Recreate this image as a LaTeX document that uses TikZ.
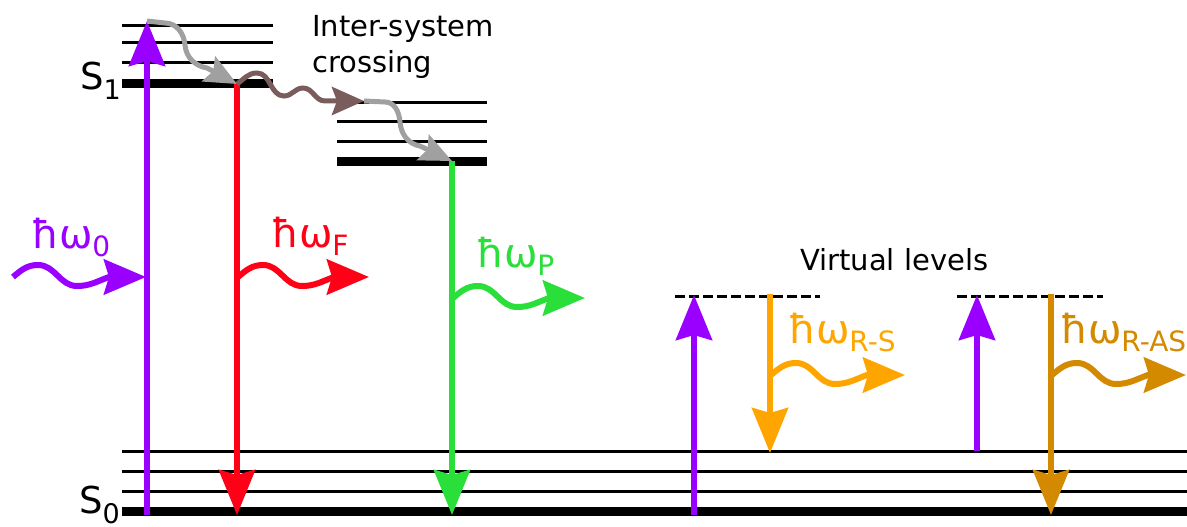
\documentclass[tikz,border=0pt]{standalone}
\usepackage{fontspec}
\setmainfont{DejaVu Sans}
\usetikzlibrary{arrows.meta}
\definecolor{cpur}{HTML}{9900FF}
\definecolor{cred}{HTML}{FF0016}
\definecolor{cgrn}{HTML}{2ADF3A}
\definecolor{cora}{HTML}{FFA500}
\definecolor{cdor}{HTML}{D48A00}
\definecolor{cbrn}{HTML}{7A5C5C}
\definecolor{cgry}{HTML}{A0A0A0}
\newcommand\lsub[1]{\raisebox{-8pt}{\fontsize{28}{30}\selectfont #1}}
\newcommand\ssub[1]{\raisebox{-10pt}{\fontsize{27}{30}\selectfont #1}}
\tikzset{
  lvl/.style={line width=3pt, black},
  lvlg/.style={line width=9pt, black},
  trn/.style={line width=6pt, -{Stealth[length=45pt,width=36pt,inset=5pt]}},
  phot/.style={line width=6pt, -{Stealth[length=42pt,width=35pt,inset=5pt]}},
  iscar/.style={line width=5pt, -{Stealth[length=32pt,width=28pt,inset=5pt]}},
  lab/.style={anchor=base west, inner sep=0pt, font=\fontsize{40}{48}\selectfont},
  txt/.style={anchor=base west, inner sep=0pt, font=\fontsize{29}{35}\selectfont},
  slab/.style={anchor=base west, inner sep=0pt, font=\fontsize{37}{44}\selectfont},
  virt/.style={line width=3pt, dash pattern=on 10pt off 4pt},
}
\begin{document}
\begin{tikzpicture}[x=1pt,y=1pt]
\useasboundingbox (0,0) rectangle (1187,-527);
% S1 levels
\draw[lvl] (122,-26) -- (273,-26);
\draw[lvl] (122,-43) -- (273,-43);
\draw[lvl] (122,-63) -- (273,-63);
\draw[lvlg] (122,-84) -- (273,-84);
% T1 levels
\draw[lvl] (337,-103) -- (487,-103);
\draw[lvl] (337,-121) -- (487,-121);
\draw[lvl] (337,-141) -- (487,-141);
\draw[lvlg] (337,-161) -- (487,-161);
% S0 levels
\draw[lvl] (122,-451) -- (1187,-451);
\draw[lvl] (122,-471) -- (1187,-471);
\draw[lvl] (122,-491) -- (1187,-491);
\draw[lvlg] (122,-511) -- (1187,-511);
% virtual levels
\draw[virt] (675,-296) -- (820,-296);
\draw[virt] (957,-296) -- (1103,-296);
% labels
\node[slab] (s1) at (80,-89) {S\ssub{1}};
\node[slab] (s0) at (79,-513) {S\ssub{0}};
\node[txt] (isc) at (312,-37) {Inter-system};
\node[txt] (isc2) at (312,-73) {crossing};
\node[txt] (vl) at (800,-270) {Virtual levels};
\node[lab, text=cpur] (l0) at (31,-248) {ħω\lsub{0}};
\node[lab, text=cred] (lF) at (271,-247) {ħω\lsub{F}};
\node[lab, text=cgrn] (lP) at (476,-267) {ħω\lsub{P}};
\node[lab, text=cora] (lRS) at (788,-343) {ħω\lsub{R-S}};
\node[lab, text=cdor] (lRAS) at (1060,-343) {ħω\lsub{R-AS}};
% coordinates
\coordinate (exB) at (147,-515);
\coordinate (exT) at (147,-21);
\coordinate (fT) at (237,-84);
\coordinate (fB) at (237,-515);
\coordinate (pT) at (452,-161);
\coordinate (pB) at (452,-515);
\coordinate (r1B) at (694,-515);
\coordinate (r1T) at (694,-295);
\coordinate (r2T) at (770,-294);
\coordinate (r2B) at (770,-453);
\coordinate (r3B) at (977,-451);
\coordinate (r3T) at (977,-295);
\coordinate (r4T) at (1051,-294);
\coordinate (r4B) at (1051,-515);
\coordinate (t1) at (364,-101);
% vertical transitions
\draw[trn, cpur] (exB) -- (exT);
\draw[trn, cred] (fT) -- (fB);
\draw[trn, cgrn] (pT) -- (pB);
\draw[trn, cpur] (r1B) -- (r1T);
\draw[trn, cora] (r2T) -- (r2B);
\draw[trn, cpur] (r3B) -- (r3T);
\draw[trn, cdor] (r4T) -- (r4B);
% photons
\coordinate (ph0s) at (13,-277);  \coordinate (ph0e) at (146,-277);
\coordinate (phFs) at (238,-277); \coordinate (phFe) at (369,-277);
\coordinate (phPs) at (453,-298); \coordinate (phPe) at (585,-298);
\coordinate (phRs) at (771,-375); \coordinate (phRe) at (905,-375);
\coordinate (phAs) at (1052,-375); \coordinate (phAe) at (1186,-375);
\foreach \s/\e/\c in {ph0s/ph0e/cpur, phFs/phFe/cred, phPs/phPe/cgrn, phRs/phRe/cora, phAs/phAe/cdor}{
  \draw[phot, \c] (\s) to[out=40,in=180] ++(25,12) to[out=0,in=180] ++(39,-21)
     to[out=0,in=200] ++(32,9) -- (\e);
}
% inter-system crossing
\draw[iscar, cgry] (exT) -- (165,-23) to[out=0,in=95] (185,-45) to[out=-85,in=170] (207,-68) -- (fT);
\draw[iscar, cbrn] (fT) to[out=35,in=180] (257,-73) to[out=0,in=180] (284,-96) to[out=0,in=180] (303,-88) to[out=0,in=180] (325,-101) -- (t1);
\draw[iscar, cgry] (t1) -- (385,-102) to[out=0,in=95] (400,-122) to[out=-85,in=170] (420,-146) -- (pT);
\end{tikzpicture}
\end{document}
